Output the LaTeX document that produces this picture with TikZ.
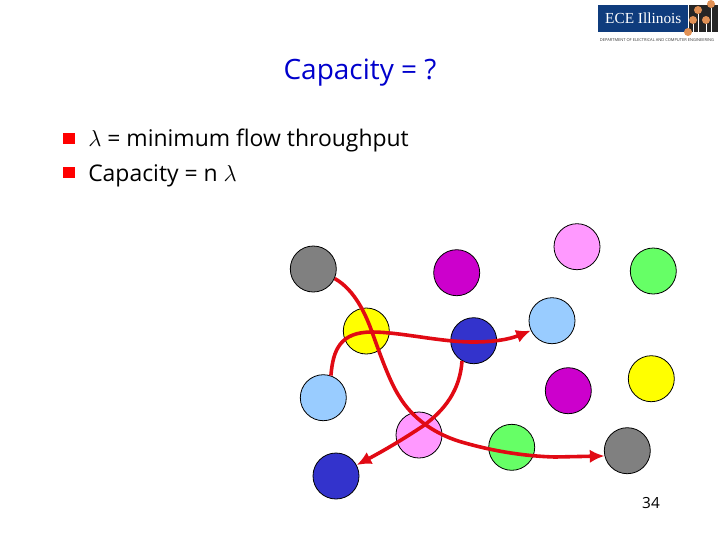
\documentclass[tikz,border=0pt]{standalone}
\usepackage{fontspec}
\setmainfont{Open Sans}
\newfontfamily\logofont{Liberation Serif}
\usepackage{xcolor}
\usetikzlibrary{arrows.meta,positioning}
\definecolor{dotgray}{RGB}{128,128,128}
\definecolor{dotmagenta}{RGB}{204,0,204}
\definecolor{dotyellow}{RGB}{255,255,0}
\definecolor{dotnavy}{RGB}{51,51,204}
\definecolor{dotsky}{RGB}{153,204,255}
\definecolor{dotpink}{RGB}{255,153,255}
\definecolor{dotgreen}{RGB}{102,255,102}
\definecolor{flowred}{RGB}{225,10,20}
\definecolor{titleblue}{RGB}{0,0,204}
\definecolor{logoblue}{RGB}{15,60,125}
\definecolor{logodot}{RGB}{225,145,85}

\begin{document}
\begin{tikzpicture}[
    x=0.75pt,y=-0.75pt,
    station/.style={draw,circle,inner sep=0pt,minimum size=34.5pt,line width=0.6pt},
    flow/.style={-{Latex[length=11pt,width=10pt]},draw=flowred,line width=2.7pt},
    bullet/.style={fill=red,inner sep=0pt,minimum width=8.5pt,minimum height=8.5pt},
    body/.style={anchor=base west,inner sep=0pt,font=\fontsize{17.2}{20}\selectfont},
    logodisc/.style={fill=logodot,circle,inner sep=0pt,minimum size=6pt}
]
\useasboundingbox (0,0) rectangle (720,540);
% logo
\node[fill=logoblue,text=white,minimum width=67.5pt,minimum height=20pt,inner sep=0pt,anchor=north west,font=\logofont\fontsize{11.5}{14}\selectfont] (logotext) at (598,5) {ECE Illinois};
\node[fill=black!85,minimum width=22pt,minimum height=20pt,inner sep=0pt,right=0pt of logotext] (logoblock) {};
\node[logodisc] (discA) at (698,10) {};
\node[logodisc] (discB) at (711,4) {};
\node[logodisc] (discC) at (693,20) {};
\node[logodisc] (discD) at (706,20) {};
\node[logodisc] (discE) at (688,32) {};
\draw[white,thin] (discA) -- (698,32);
\draw[white,thin] (discB) -- (711,32);
\draw[white,thin] (discC) -- (693,32);
\draw[white,thin] (discD) -- (706,32);
\node[inner sep=0pt,font=\fontsize{3}{3}\selectfont,text=black!80] (logocaption) at (657,40) {DEPARTMENT OF ELECTRICAL AND COMPUTER ENGINEERING};
% text
\node[anchor=base,inner sep=0pt,text=titleblue,font=\fontsize{21}{24}\selectfont] (title) at (360,79) {Capacity = ?};
\node[bullet] (bulletA) at (69,138.5) {};
\node[bullet] (bulletB) at (69,172.5) {};
\node[body] (lineA) at (88,146) {$\lambda$ = minimum flow throughput};
\node[body] (lineB) at (88,181) {Capacity = n $\lambda$};
\node[inner sep=0pt,font=\fontsize{11.5}{14}\selectfont] (pagenum) at (651,503) {34};
% stations
\node[station,fill=dotgray] (grayA) at (313.3,269) {};
\node[station,fill=dotmagenta] (magentaA) at (456.7,272.7) {};
\node[station,fill=dotyellow] (yellowA) at (366.3,331) {};
\node[station,fill=dotnavy] (navyA) at (473.7,340.7) {};
\node[station,fill=dotsky] (skyA) at (323.3,397.7) {};
\node[station,fill=dotpink] (pinkA) at (419,435) {};
\node[station,fill=dotgreen] (greenA) at (511.7,447.3) {};
\node[station,fill=dotnavy] (navyB) at (336,476) {};
\node[station,fill=dotpink] (pinkB) at (577,246.7) {};
\node[station,fill=dotgreen] (greenB) at (653.3,271) {};
\node[station,fill=dotsky] (skyB) at (552,320.7) {};
\node[station,fill=dotmagenta] (magentaB) at (568.3,390.7) {};
\node[station,fill=dotyellow] (yellowB) at (651.3,378.7) {};
\node[station,fill=dotgray] (grayB) at (627.3,450.7) {};
% flows
\draw[flow] (grayA.-24) .. controls (355,290) and (366,315) .. (372,332)
    .. controls (381,357) and (390,382) .. (399,396)
    .. controls (412,418) and (435,435) .. (465,443)
    .. controls (490,450) and (520,456) .. (555,457) -- (grayB.193);
\draw[flow] (skyA.71) .. controls (333,350) and (340,332) .. (372,332)
    .. controls (400,332) and (440,342) .. (473,342)
    .. controls (495,342) and (510,339) .. (skyB.205);
\draw[flow] (navyA.240) .. controls (460,390) and (445,410) .. (423,426)
    .. controls (405,438) and (385,450) .. (navyB.28);
\end{tikzpicture}
\end{document}
